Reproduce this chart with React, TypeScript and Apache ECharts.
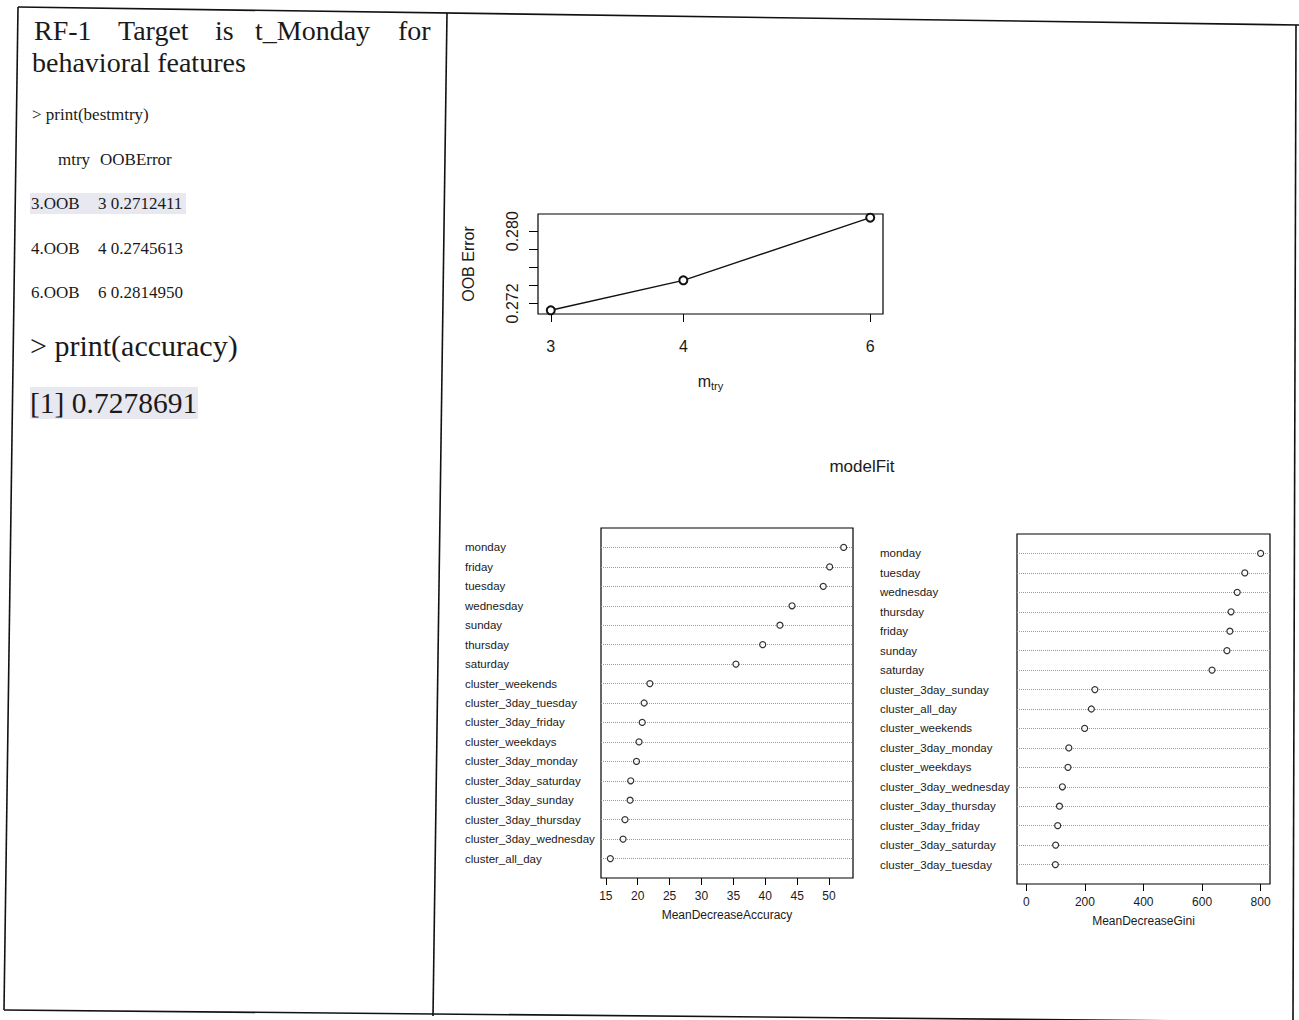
import React, { useEffect, useRef } from "react";
import * as echarts from "echarts";

// ---- Data ----
const mtry = [3, 4, 6];
const oobError = [0.2712411, 0.2745613, 0.281495];
const oobTicks = [0.272, 0.274, 0.276, 0.278, 0.28];
const oobLabels = [0.272, 0.28];

const accFeatures = [
  "monday", "friday", "tuesday", "wednesday", "sunday", "thursday", "saturday",
  "cluster_weekends", "cluster_3day_tuesday", "cluster_3day_friday", "cluster_weekdays",
  "cluster_3day_monday", "cluster_3day_saturday", "cluster_3day_sunday",
  "cluster_3day_thursday", "cluster_3day_wednesday", "cluster_all_day",
];
const accValues = [52.3, 50.1, 49.1, 44.2, 42.3, 39.6, 35.4, 21.9, 21.0, 20.7, 20.2, 19.8, 18.9, 18.8, 18.0, 17.7, 15.7];
const accTicks = [15, 20, 25, 30, 35, 40, 45, 50];

const giniFeatures = [
  "monday", "tuesday", "wednesday", "thursday", "friday", "sunday", "saturday",
  "cluster_3day_sunday", "cluster_all_day", "cluster_weekends", "cluster_3day_monday",
  "cluster_weekdays", "cluster_3day_wednesday", "cluster_3day_thursday",
  "cluster_3day_friday", "cluster_3day_saturday", "cluster_3day_tuesday",
];
const giniValues = [800, 746, 720, 699, 695, 685, 634, 234, 222, 199, 145, 142, 123, 113, 107, 100, 99];
const giniTicks = [0, 200, 400, 600, 800];

const titleWords = ["RF-1", "Target", "is", "t_Monday", "for"];
const titleLine2 = "behavioral features";
const bestCmd = "> print(bestmtry)";
const tableHeader = ["mtry", "OOBError"];
const tableRows = [
  ["3.OOB", "3 0.2712411"],
  ["4.OOB", "4 0.2745613"],
  ["6.OOB", "6 0.2814950"],
];
const accCmd = "> print(accuracy)";
const accResult = "[1] 0.7278691";
const plotTitle = "modelFit";

// ---- helpers ----
// R-style axis range: data range extended by 4% on each side
const pad = (arr: number[]) => {
  const mn = Math.min(...arr);
  const mx = Math.max(...arr);
  const p = (mx - mn) * 0.04;
  return [mn - p, mx + p];
};

const SANS = '"Liberation Sans", Arial, sans-serif';
const SERIF = '"Liberation Serif", "Times New Roman", serif';
const INK = "#1a1a1a";

export default function App() {
  const ref = useRef<HTMLDivElement>(null);

  useEffect(() => {
    if (!ref.current) return;
    const chart = echarts.init(ref.current, undefined, { renderer: "svg" });

    const logX = mtry.map((m) => Math.log(m));
    const [xMin0, xMax0] = pad(logX);
    const [yMin0, yMax0] = pad(oobError);
    const [aMin, aMax] = pad(accValues);
    // Gini importance is non-negative: the range starts at 0
    const [gMin, gMax] = pad([0, ...giniValues]);

    const dotYAxis = (grid: number, names: string[], margin: number) => ({
      type: "value",
      gridIndex: grid,
      min: 0,
      max: names.length + 1,
      interval: 1,
      inverse: true,
      axisLine: { show: false, onZero: false },
      axisTick: { show: false },
      splitLine: { show: false },
      axisLabel: {
        show: true,
        align: "left",
        margin,
        fontSize: 11.5,
        fontFamily: SANS,
        color: INK,
        formatter: (v: number) => names[Math.round(v) - 1] ?? "",
      },
    });

    const dotXAxis = (grid: number, min: number, max: number, ticks: number[], name: string) => ({
      type: "value",
      gridIndex: grid,
      min,
      max,
      name,
      nameLocation: "middle",
      nameGap: 31,
      nameTextStyle: { fontSize: 12, fontFamily: SANS, color: INK },
      axisLine: { show: false, onZero: false },
      axisTick: { show: true, customValues: ticks, length: 7, lineStyle: { color: "#000", width: 1 } },
      axisLabel: {
        show: true,
        customValues: ticks,
        margin: 12,
        fontSize: 12,
        fontFamily: SANS,
        color: INK,
        formatter: (v: number) => String(Math.round(v)),
      },
      splitLine: { show: false },
    });

    const dotSeries = (grid: number, values: number[]) => ({
      type: "scatter",
      xAxisIndex: grid,
      yAxisIndex: grid,
      data: values.map((v, i) => [v, i + 1]),
      symbol: "circle",
      symbolSize: 6,
      itemStyle: { color: "#fff", borderColor: "#000", borderWidth: 1.2 },
      silent: true,
      z: 5,
      markLine: {
        silent: true,
        symbol: ["none", "none"],
        label: { show: false },
        lineStyle: { type: "dotted", color: "#9a9a9a", width: 1 },
        data: values.map((_, i) => ({ yAxis: i + 1 })),
      },
    });

    const graphics: any[] = [];
    // document frame (scanned, slightly tilted)
    const frame = [
      [18, 7, 1299, 25],
      [18, 7, 4, 1010],
      [4, 1010, 1299, 1022],
      [1296, 25, 1293, 1020],
      [447, 13, 433, 1016],
    ];
    frame.forEach(([x1, y1, x2, y2]) =>
      graphics.push({ type: "line", shape: { x1, y1, x2, y2 }, style: { stroke: "#111", lineWidth: 1.6 }, z: 1 })
    );
    // highlights
    graphics.push({ type: "rect", shape: { x: 30, y: 193, width: 156, height: 21 }, style: { fill: "#e8e8f1" }, z: 0 });
    graphics.push({ type: "rect", shape: { x: 30, y: 387, width: 168, height: 32 }, style: { fill: "#e8e8f1" }, z: 0 });

    const txt = (text: string, x: number, y: number, size: number, family = SERIF, align = "left") => ({
      type: "text",
      x,
      y,
      z: 2,
      style: {
        text,
        font: `${size}px ${family}`,
        fill: INK,
        textAlign: align,
        textVerticalAlign: "middle",
      },
    });
    const wordX = [34, 118, 215, 255, 398];
    titleWords.forEach((w, i) => graphics.push(txt(w, wordX[i], 30, 28)));
    graphics.push(txt(titleLine2, 32, 62, 28));
    graphics.push(txt(bestCmd, 32, 114, 17));
    graphics.push(txt(tableHeader[0], 58, 159, 17));
    graphics.push(txt(tableHeader[1], 100, 159, 17));
    const rowY = [203, 248, 292];
    tableRows.forEach((r, i) => {
      graphics.push(txt(r[0], 31, rowY[i], 17));
      graphics.push(txt(r[1], 98, rowY[i], 17));
    });
    graphics.push(txt(accCmd, 30, 345, 30));
    graphics.push(txt(accResult, 30, 403, 29.5));
    graphics.push(txt(plotTitle, 862, 466, 17, SANS, "center"));

    const option: any = {
      animation: false,
      backgroundColor: "#fff",
      grid: [
        { left: 538, top: 214, width: 345, height: 100, show: true, borderColor: "#000", borderWidth: 1.2, backgroundColor: "transparent" },
        { left: 601, top: 528, width: 252, height: 350, show: true, borderColor: "#000", borderWidth: 1.2, backgroundColor: "transparent" },
        { left: 1017, top: 534, width: 253, height: 350, show: true, borderColor: "#000", borderWidth: 1.2, backgroundColor: "transparent" },
      ],
      xAxis: [
        {
          type: "value",
          gridIndex: 0,
          min: xMin0,
          max: xMax0,
          name: "{m|m}{s|try}",
          nameLocation: "middle",
          nameGap: 58,
          nameTextStyle: {
            rich: {
              m: { fontSize: 16, fontFamily: SANS, color: INK },
              s: { fontSize: 11, fontFamily: SANS, color: INK, verticalAlign: "bottom", padding: [8, 0, 0, 0] },
            },
          },
          axisLine: { show: false, onZero: false },
          axisTick: { show: true, customValues: logX, length: 8, lineStyle: { color: "#000", width: 1 } },
          axisLabel: {
            show: true,
            customValues: logX,
            margin: 24,
            fontSize: 16,
            fontFamily: SANS,
            color: INK,
            formatter: (v: number) => String(Math.round(Math.exp(v))),
          },
          splitLine: { show: false },
        },
        dotXAxis(1, aMin, aMax, accTicks, "MeanDecreaseAccuracy"),
        dotXAxis(2, gMin, gMax, giniTicks, "MeanDecreaseGini"),
      ],
      yAxis: [
        {
          type: "value",
          gridIndex: 0,
          min: yMin0,
          max: yMax0,
          name: "OOB Error",
          nameLocation: "middle",
          nameRotate: 90,
          nameGap: 62,
          nameTextStyle: { fontSize: 16, fontFamily: SANS, color: INK },
          axisLine: { show: false, onZero: false },
          axisTick: { show: true, customValues: oobTicks, length: 9, lineStyle: { color: "#000", width: 1 } },
          axisLabel: {
            show: true,
            customValues: oobLabels,
            rotate: 90,
            margin: 18,
            fontSize: 16,
            fontFamily: SANS,
            color: INK,
            formatter: (v: number) => v.toFixed(3),
          },
          splitLine: { show: false },
        },
        dotYAxis(1, accFeatures, 136),
        dotYAxis(2, giniFeatures, 137),
      ],
      series: [
        {
          type: "line",
          xAxisIndex: 0,
          yAxisIndex: 0,
          data: logX.map((x, i) => [x, oobError[i]]),
          symbol: "emptyCircle",
          symbolSize: 8,
          lineStyle: { color: "#111", width: 1.4 },
          itemStyle: { color: "#111", borderWidth: 1 },
          silent: true,
        },
        dotSeries(1, accValues),
        dotSeries(2, giniValues),
      ],
      graphic: graphics,
    };

    chart.setOption(option);
    return () => chart.dispose();
  }, []);

  return (
    <div
      ref={ref}
      style={{ position: "absolute", left: 0, top: 0, width: 1299, height: 1020, background: "#fff" }}
    />
  );
}
